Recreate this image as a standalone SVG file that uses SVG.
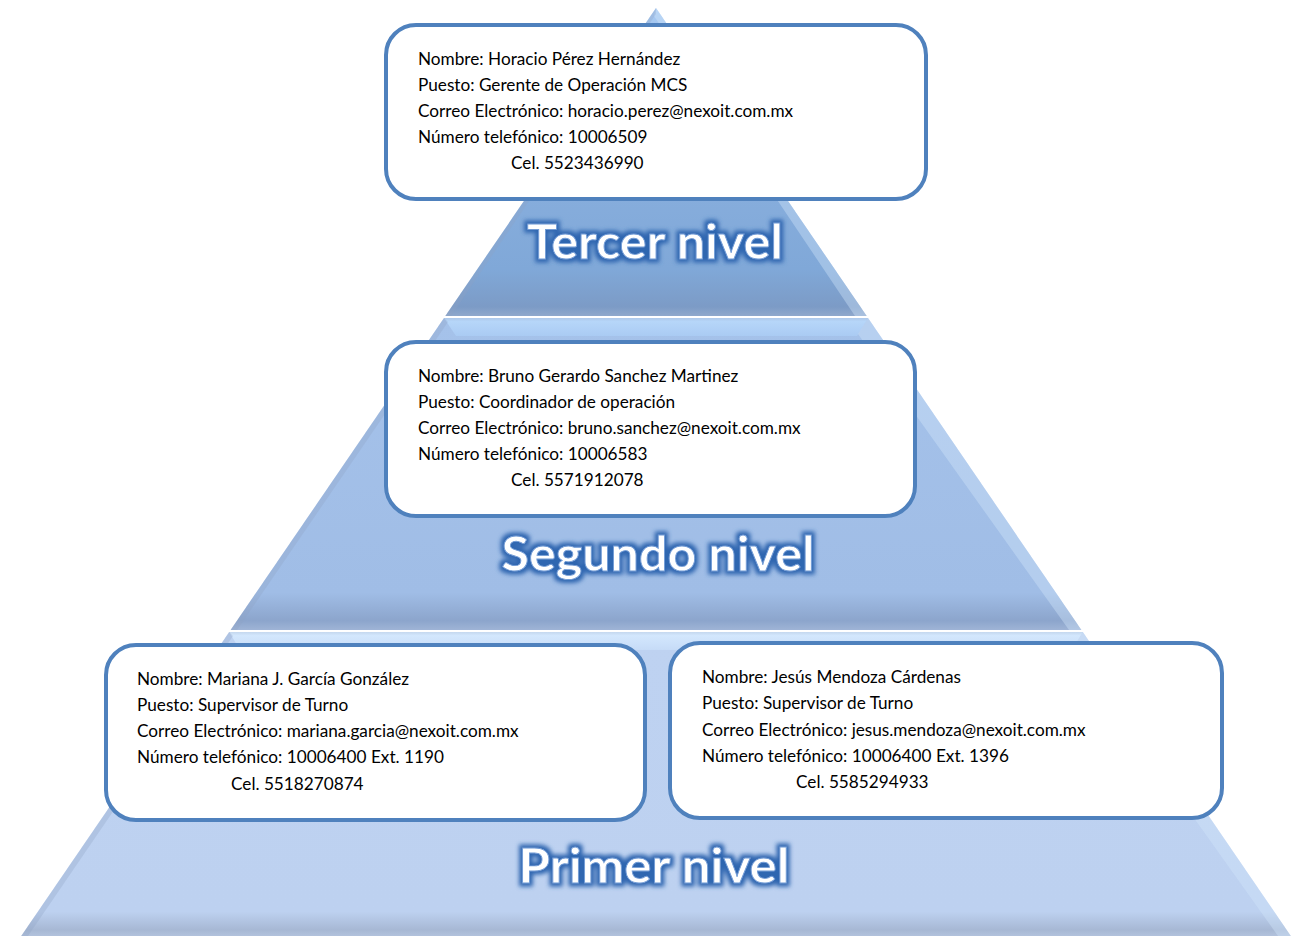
<svg xmlns="http://www.w3.org/2000/svg" width="1302" height="936" viewBox="0 0 1302 936">
<defs>
<linearGradient id="gTop" x1="0" y1="0" x2="0" y2="1">
<stop offset="0" stop-color="#A8CAF2"/>
<stop offset="0.35" stop-color="#8DB2E0"/>
<stop offset="0.85" stop-color="#80A8D8"/>
<stop offset="0.97" stop-color="#7C9BC6"/>
<stop offset="1" stop-color="#8FA8CC"/>
</linearGradient>
<linearGradient id="gMid" x1="0" y1="0" x2="0" y2="1">
<stop offset="0" stop-color="#A5C2EA"/>
<stop offset="0.88" stop-color="#A0BDE6"/>
<stop offset="0.97" stop-color="#8CA5CC"/>
<stop offset="1" stop-color="#9FB4D6"/>
</linearGradient>
<linearGradient id="gBot" x1="0" y1="0" x2="0" y2="1">
<stop offset="0" stop-color="#BED2F1"/>
<stop offset="0.92" stop-color="#BDD1F0"/>
<stop offset="0.98" stop-color="#A7B8D4"/>
<stop offset="1" stop-color="#B2C2DC"/>
</linearGradient>
<linearGradient id="gShelfM" x1="0" y1="0" x2="0" y2="1">
<stop offset="0" stop-color="#AFC9EA"/>
<stop offset="0.2" stop-color="#B6D6F9"/>
<stop offset="1" stop-color="#AACBF3"/>
</linearGradient>
<linearGradient id="gShelfB" x1="0" y1="0" x2="0" y2="1">
<stop offset="0" stop-color="#C4D7EE"/>
<stop offset="0.2" stop-color="#D3E7FD"/>
<stop offset="1" stop-color="#C6DBF7"/>
</linearGradient>
<filter id="glow" x="-10%" y="-30%" width="120%" height="160%">
<feMorphology in="SourceAlpha" operator="dilate" radius="2.5" result="d"/>
<feGaussianBlur in="d" stdDeviation="2" result="b"/>
<feFlood flood-color="#2F66B0" flood-opacity="1"/>
<feComposite in2="b" operator="in" result="g"/>
<feMerge><feMergeNode in="g"/><feMergeNode in="SourceGraphic"/></feMerge>
</filter>
<style>
.box{fill:#FFFFFF;stroke:#4F81BD;stroke-width:4}
.t{font-family:Lato,"Open Sans","Liberation Sans",sans-serif;font-size:17.2px;fill:#000000}
.lvl{font-family:Lato,"Open Sans","Liberation Sans",sans-serif;font-size:47px;font-weight:bold;fill:#FFFFFF;stroke:#6E9AD6;stroke-width:0.8;filter:url(#glow)}
.edgeR{fill:#D2E6FB;opacity:0.4}
.edgeL{fill:#8FA3C2;opacity:0.3}
</style>
</defs>

<g id="pyramid">
<polygon points="656,8 866.7,316 445.3,316" fill="url(#gTop)"/>
<polygon points="656,8 866.7,316 855,316 654,16" class="edgeR"/>
<polygon points="656,8 445.3,316 451,316 656,14" class="edgeL"/>
<polygon points="444,318 868,318 1081.4,630 230.6,630" fill="url(#gMid)"/>
<polygon points="444,318 868,318 857,336 456,336" fill="url(#gShelfM)"/>
<polygon points="868,318 1081.4,630 1069,630 858,334" class="edgeR"/>
<polygon points="444,318 230.6,630 237,630 448,322" class="edgeL"/>
<polygon points="229.2,632 1082.8,632 1290.8,936 21.2,936" fill="url(#gBot)"/>
<polygon points="229.2,632 1082.8,632 1072,650 240,650" fill="url(#gShelfB)"/>
<polygon points="1082.8,632 1290.8,936 1278,936 1073,648" class="edgeR"/>
<polygon points="229.2,632 21.2,936 28,936 233,636" class="edgeL"/>
</g>

<g id="label-tercer"><text class="lvl" x="655" y="259" text-anchor="middle" textLength="256" lengthAdjust="spacingAndGlyphs">Tercer nivel</text></g>
<g id="label-segundo"><text class="lvl" x="658" y="571" text-anchor="middle" textLength="313" lengthAdjust="spacingAndGlyphs">Segundo nivel</text></g>
<g id="label-primer"><text class="lvl" x="654" y="883" text-anchor="middle" textLength="271" lengthAdjust="spacingAndGlyphs">Primer nivel</text></g>

<g id="connectors"></g>

<g id="node-horacio">
<rect class="box" x="386" y="25" width="540" height="174" rx="30"/>
<text class="t" x="418" y="65">Nombre: Horacio Pérez Hernández</text>
<text class="t" x="418" y="91">Puesto: Gerente de Operación MCS</text>
<text class="t" x="418" y="117">Correo Electrónico: horacio.perez@nexoit.com.mx</text>
<text class="t" x="418" y="143">Número telefónico: 10006509</text>
<text class="t" x="511" y="169">Cel. 5523436990</text>
</g>

<g id="node-bruno">
<rect class="box" x="386" y="342" width="529" height="174" rx="30"/>
<text class="t" x="418" y="382">Nombre: Bruno Gerardo Sanchez Martinez</text>
<text class="t" x="418" y="408">Puesto: Coordinador de operación</text>
<text class="t" x="418" y="434">Correo Electrónico: bruno.sanchez@nexoit.com.mx</text>
<text class="t" x="418" y="460">Número telefónico: 10006583</text>
<text class="t" x="511" y="486">Cel. 5571912078</text>
</g>

<g id="node-mariana">
<rect class="box" x="106" y="645" width="539" height="175" rx="30"/>
<text class="t" x="137" y="685">Nombre: Mariana J. García González</text>
<text class="t" x="137" y="711">Puesto: Supervisor de Turno</text>
<text class="t" x="137" y="737">Correo Electrónico: mariana.garcia@nexoit.com.mx</text>
<text class="t" x="137" y="763">Número telefónico: 10006400 Ext. 1190</text>
<text class="t" x="231" y="790">Cel. 5518270874</text>
</g>

<g id="node-jesus">
<rect class="box" x="670" y="643" width="552" height="175" rx="30"/>
<text class="t" x="702" y="683">Nombre: Jesús Mendoza Cárdenas</text>
<text class="t" x="702" y="709">Puesto: Supervisor de Turno</text>
<text class="t" x="702" y="736">Correo Electrónico: jesus.mendoza@nexoit.com.mx</text>
<text class="t" x="702" y="762">Número telefónico: 10006400 Ext. 1396</text>
<text class="t" x="796" y="788">Cel. 5585294933</text>
</g>
</svg>
